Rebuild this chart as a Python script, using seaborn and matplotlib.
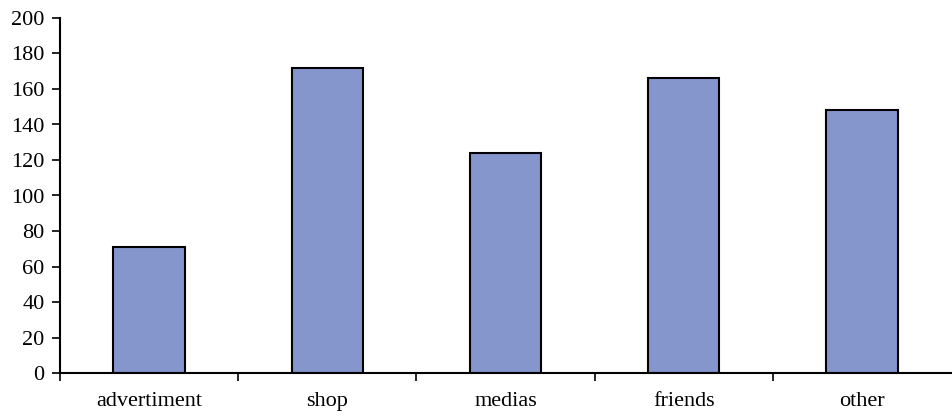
import numpy as np
import pandas as pd
import seaborn as sns
import matplotlib.pyplot as plt
from matplotlib.ticker import FixedLocator

categories = ["advertiment", "shop", "medias", "friends", "other"]
counts = [71, 172, 124, 166, 148]

df = pd.DataFrame({"source": categories, "count": counts})

sns.set_style("white")
plt.rcParams['font.family'] = ['Liberation Serif', 'DejaVu Serif']

fig = plt.figure(figsize=(9.52, 4.19), dpi=100)
ax = fig.add_axes([60 / 952, 46 / 419, 891 / 952, 355 / 419])

sns.barplot(data=df, x="source", y="count", color="#8596CC", saturation=1,
            width=0.4, edgecolor="black", linewidth=1.5, ax=ax)

ax.set_xlim(-0.5, len(categories) - 0.5)
ax.set_ylim(0, 200)
ax.set_yticks(np.arange(0, 201, 20))
ax.set_xlabel("")
ax.set_ylabel("")

# tick marks between categories, like Excel
ax.xaxis.set_minor_locator(FixedLocator(np.arange(-0.5, len(categories) - 1, 1.0)))
ax.tick_params(axis="x", which="major", length=0, labelsize=16, pad=14, colors="black")
ax.tick_params(axis="x", which="minor", length=6, width=1.2, direction="out", bottom=True, color="black")
ax.tick_params(axis="y", which="major", length=6, width=1.2, direction="out", left=True,
               labelsize=16, pad=5, colors="black")

sns.despine(ax=ax)
for side in ["left", "bottom"]:
    ax.spines[side].set_color("black")
    ax.spines[side].set_linewidth(1.5)

fig.savefig("out.png", dpi=100)
